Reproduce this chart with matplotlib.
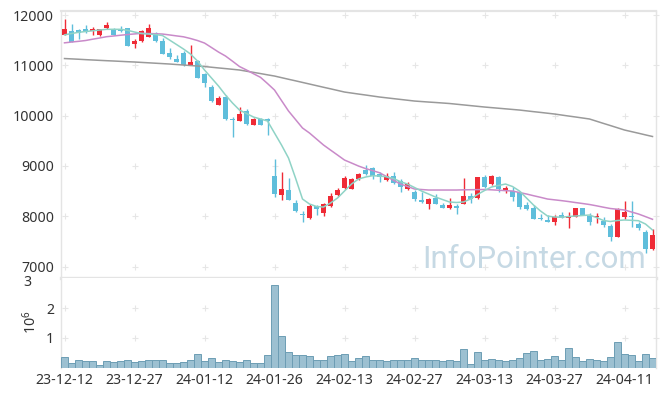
import matplotlib
matplotlib.use("Agg")
import matplotlib.pyplot as plt
import matplotlib.transforms as mtransforms
import numpy as np
import pandas as pd

# Korean trading days (market closed on these)
holidays = ["2023-12-25", "2023-12-29", "2024-01-01", "2024-02-09",
            "2024-02-12", "2024-03-01", "2024-04-10"]
dates = pd.bdate_range("2023-12-12", "2024-04-17", freq="C", holidays=holidays)
date_labels = [d.strftime("%y-%m-%d") for d in dates]

opens = [11602, 11682, 11702, 11722, 11688, 11608, 11741, 11716, 11722, 11735,
         11430, 11483, 11569, 11636, 11483, 11251, 11131, 11251, 11006, 11085,
         10821, 10575, 10217, 10376, 9930, 9899, 10092, 9820, 9927, 9927,
         8799, 8422, 8521, 8269, 8044, 7970, 8203, 8058, 8209, 8422,
         8567, 8541, 8740, 8919, 8965, 8833, 8714, 8806, 8707, 8535,
         8488, 8316, 8243, 8368, 8223, 8170, 8197, 8249, 8402, 8356,
         8779, 8640, 8779, 8508, 8508, 8475, 8223, 8170, 7958, 7924,
         7890, 8024, 7970, 7990, 8157, 8004, 7977, 7910, 7805, 7592,
         7977, 8004, 7845, 7692, 7342]
highs = [11920, 11820, 11720, 11807, 11755, 11728, 11861, 11741, 11781, 11750,
         11517, 11702, 11821, 11670, 11537, 11338, 11199, 11290, 11404, 11100,
         10853, 10610, 10383, 10410, 9966, 10165, 10125, 9950, 9960, 9947,
         9131, 8873, 8754, 8322, 8104, 8237, 8223, 8257, 8468, 8567,
         8793, 8760, 8866, 9018, 8985, 8873, 8853, 8886, 8740, 8674,
         8521, 8475, 8368, 8435, 8269, 8356, 8243, 8766, 8461, 8779,
         8819, 8819, 8799, 8608, 8588, 8508, 8276, 8230, 8038, 8024,
         8024, 8080, 8077, 8170, 8170, 8064, 8064, 7977, 7845, 8157,
         8309, 8309, 7885, 7726, 7739]
lows = [11600, 11460, 11517, 11636, 11602, 11583, 11728, 11596, 11660, 11380,
        11338, 11470, 11560, 11460, 11222, 11131, 11066, 10990, 11000, 10742,
        10575, 10276, 10205, 9913, 9569, 9890, 9810, 9820, 9810, 9614,
        8388, 8322, 8320, 8084, 7879, 7950, 8024, 8010, 8190, 8400,
        8550, 8541, 8730, 8820, 8734, 8686, 8700, 8640, 8488, 8515,
        8309, 8270, 8143, 8243, 8157, 8143, 8038, 8243, 8269, 8350,
        8555, 8620, 8488, 8462, 8302, 8137, 8130, 7944, 7924, 7890,
        7825, 7960, 7758, 7980, 8020, 7825, 7858, 7792, 7507, 7590,
        7950, 7792, 7733, 7274, 7320]
closes = [11722, 11470, 11650, 11662, 11722, 11722, 11807, 11608, 11676, 11390,
          11477, 11676, 11735, 11477, 11231, 11171, 11072, 11006, 11066, 10753,
          10642, 10290, 10350, 9927, 9913, 10032, 9833, 9927, 9820, 9887,
          8436, 8541, 8328, 8104, 8018, 8203, 8150, 8243, 8408, 8521,
          8760, 8734, 8839, 8839, 8800, 8786, 8800, 8654, 8575, 8640,
          8342, 8289, 8342, 8243, 8170, 8223, 8157, 8402, 8342, 8779,
          8581, 8799, 8541, 8555, 8388, 8190, 8143, 7944, 7939, 7890,
          7990, 7964, 8004, 8157, 8024, 7890, 8004, 7825, 7592, 8137,
          8091, 7990, 7772, 7342, 7626]
volumes = [0.34, 0.14, 0.27, 0.21, 0.21, 0.10, 0.21, 0.18, 0.21, 0.27,
           0.18, 0.21, 0.25, 0.27, 0.25, 0.14, 0.14, 0.17, 0.25, 0.45,
           0.21, 0.31, 0.18, 0.25, 0.22, 0.18, 0.25, 0.14, 0.14, 0.41,
           2.79, 1.07, 0.51, 0.41, 0.41, 0.39, 0.25, 0.25, 0.39, 0.41,
           0.47, 0.21, 0.33, 0.40, 0.26, 0.24, 0.21, 0.26, 0.26, 0.26,
           0.33, 0.24, 0.24, 0.24, 0.21, 0.24, 0.21, 0.64, 0.13, 0.54,
           0.26, 0.30, 0.26, 0.21, 0.26, 0.33, 0.50, 0.57, 0.26, 0.30,
           0.40, 0.26, 0.67, 0.37, 0.21, 0.30, 0.24, 0.21, 0.37, 0.88,
           0.47, 0.43, 0.21, 0.47, 0.33]
ma5 = [11606, 11632, 11656, 11672, 11686, 11702, 11716, 11716, 11716, 11696,
       11662, 11632, 11622, 11612, 11592, 11503, 11414, 11324, 11225, 11086,
       10907, 10748, 10589, 10410, 10251, 10111, 10042, 9972, 9933, 9893,
       9654, 9416, 9157, 8760, 8342, 8243, 8193, 8183, 8263, 8362,
       8501, 8640, 8740, 8779, 8805, 8799, 8785, 8750, 8686, 8640,
       8571, 8501, 8442, 8382, 8332, 8283, 8273, 8283, 8342, 8432,
       8511, 8581, 8611, 8640, 8591, 8501, 8362, 8223, 8104, 8004,
       7984, 7980, 7994, 8004, 8014, 8024, 7974, 7915, 7895, 7915,
       7925, 7919, 7911, 7845, 7726]
ma20 = [11447, 11463, 11477, 11493, 11519, 11543, 11569, 11583, 11598, 11612,
        11624, 11636, 11632, 11628, 11622, 11604, 11585, 11567, 11533, 11493,
        11443, 11354, 11264, 11185, 11082, 10976, 10907, 10833, 10761, 10638,
        10509, 10300, 10092, 9923, 9754, 9654, 9535, 9416, 9316, 9217,
        9117, 9058, 8998, 8948, 8907, 8865, 8790, 8714, 8640, 8591,
        8541, 8531, 8521, 8521, 8521, 8521, 8521, 8525, 8527, 8529,
        8531, 8525, 8517, 8509, 8501, 8471, 8442, 8408, 8376, 8342,
        8326, 8310, 8292, 8272, 8253, 8233, 8207, 8179, 8153, 8139,
        8124, 8084, 8044, 7992, 7939]
ma120 = [11135, 11128, 11121, 11113, 11106, 11099, 11092, 11086, 11079, 11072,
         11066, 11058, 11050, 11042, 11034, 11026, 11016, 11006, 10996, 10986,
         10976, 10962, 10948, 10935, 10921, 10907, 10883, 10860, 10836, 10811,
         10787, 10755, 10723, 10692, 10660, 10628, 10596, 10564, 10533, 10501,
         10469, 10449, 10429, 10410, 10390, 10370, 10354, 10338, 10322, 10306,
         10290, 10280, 10270, 10261, 10251, 10241, 10227, 10213, 10199, 10185,
         10171, 10159, 10147, 10135, 10123, 10111, 10095, 10079, 10064, 10048,
         10032, 10012, 9992, 9973, 9953, 9933, 9889, 9845, 9802, 9758,
         9714, 9682, 9650, 9617, 9585]
price_ticks = [7000, 8000, 9000, 10000, 11000, 12000]
vol_ticks = [1, 2, 3]

plt.rcParams["font.family"] = ["Noto Sans", "DejaVu Sans"]
plt.rcParams["mathtext.fontset"] = "custom"
plt.rcParams["mathtext.rm"] = "Noto Sans"

UP, DOWN = "#ef2b36", "#5fbedb"
GRID = "#e6e6e6"
FRAME = "#e4e4e4"
TXT = "#333333"
FS = 10.2

W, H = 665, 396
fig = plt.figure(figsize=(W / 100, H / 100), dpi=100)
ax = fig.add_axes([61 / W, (H - 278) / H, 595 / W, 267 / H])
axv = fig.add_axes([61 / W, (H - 367.5) / H, 595 / W, 89.5 / H], sharex=ax)

x = np.arange(len(dates))
o, hi, lo, c = map(np.array, (opens, highs, lows, closes))
colors = np.where(c >= o, UP, DOWN)

# candles
ax.vlines(x, lo, hi, colors=colors, lw=1.0, zorder=3)
ax.bar(x, np.maximum(np.abs(c - o), 14), bottom=np.minimum(o, c), width=0.74,
       color=colors, zorder=4)

# moving averages
ax.plot(x, ma120, color="#9a9a9a", lw=1.1, zorder=5)
ax.plot(x, ma20, color="#c98ac9", lw=1.1, zorder=5)
ax.plot(x, ma5, color="#8fd3c6", lw=1.1, zorder=5)

# volume
axv.bar(x, volumes, width=1.0, color="#9cc0d1", edgecolor="#6d9db4", lw=0.7, zorder=3)

xticks = list(range(0, len(dates), 10))
gx = xticks + [len(dates) - 0.5]
for xi in gx:
    for yi in price_ticks:
        ax.plot(xi, yi, marker="+", color=GRID, ms=4.5, mew=0.8, zorder=1, clip_on=False)
    for yi in vol_ticks[:2]:
        axv.plot(xi, yi, marker="+", color=GRID, ms=4.5, mew=0.8, zorder=1, clip_on=False)

ax.text(0.984, 0.036, "InfoPointer.com", transform=ax.transAxes, ha="right",
        va="baseline", fontsize=22.5, color="#c6d9e4", family="Roboto", zorder=2)

ax.set_xlim(-0.5, len(dates) - 0.5)
ax.set_ylim(6772, 12080)
axv.set_ylim(0, 3.03)

ax.set_yticks(price_ticks)
ax.tick_params(axis="y", length=0, labelsize=FS, labelcolor=TXT, pad=5)
ax.tick_params(axis="x", length=0, labelbottom=False)
axv.set_yticks(vol_ticks[:2])
axv.tick_params(axis="y", length=0, labelsize=FS, labelcolor=TXT, pad=5)
# top volume label, placed just under the price panel's lowest label
axv.text(-5 / 100, vol_ticks[2], str(vol_ticks[2]), fontsize=FS, color=TXT,
         ha="right", va="top",
         transform=mtransforms.blended_transform_factory(axv.transAxes, axv.transData)
         + mtransforms.ScaledTranslation(0, 4 / 100, fig.dpi_scale_trans))
axv.set_xticks(xticks)
axv.set_xticklabels([date_labels[i] for i in xticks])
axv.tick_params(axis="x", length=0, labelsize=FS, labelcolor=TXT, pad=4)
axv.set_ylabel(r"$10^6$", fontsize=FS, color=TXT, labelpad=4)

for a in (ax, axv):
    a.set_facecolor("white")
    for s in ("left", "right"):
        a.spines[s].set_color(FRAME)
        a.spines[s].set_linewidth(1.0)
ax.spines["top"].set_color(FRAME)
ax.spines["top"].set_linewidth(1.6)
ax.spines["bottom"].set_color(FRAME)
ax.spines["bottom"].set_linewidth(2.4)
axv.spines["top"].set_visible(False)
axv.spines["bottom"].set_visible(False)

fig.savefig("out.png", dpi=100, facecolor="white")
